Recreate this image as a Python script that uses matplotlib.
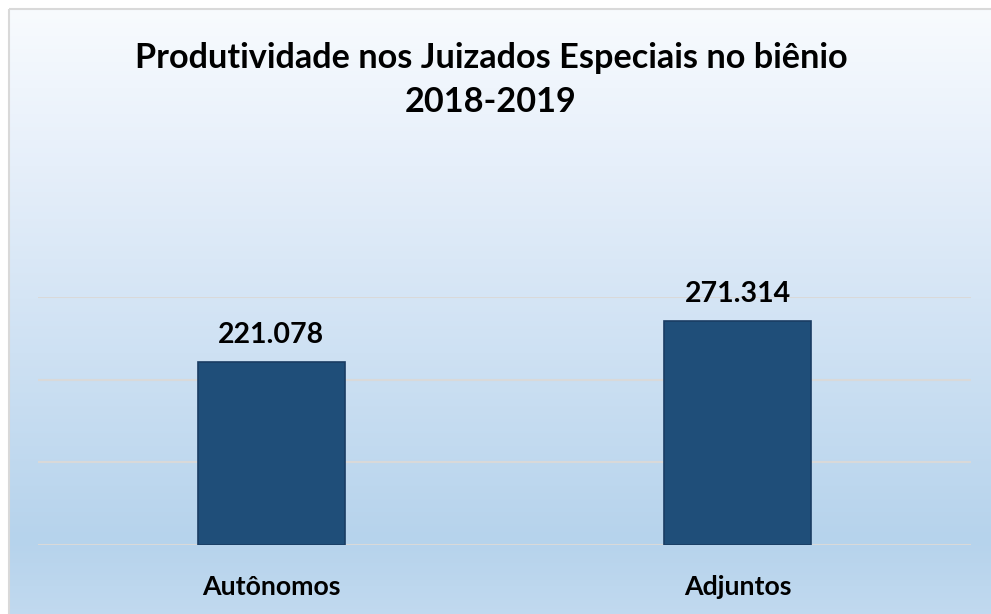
import numpy as np
import matplotlib
matplotlib.use("Agg")
import matplotlib.pyplot as plt
from matplotlib.colors import LinearSegmentedColormap
from matplotlib.patches import Rectangle

categories = ["Autônomos", "Adjuntos"]
values = [221078, 271314]
labels = ["221.078", "271.314"]
title = "Produtividade nos Juizados Especiais no biênio\n2018-2019"

W, H = 991, 614
fig = plt.figure(figsize=(W / 100, H / 100), dpi=100)
fig.patch.set_facecolor("white")

# background gradient
bg = fig.add_axes([0, 0, 1, 1])
bg.set_xlim(0, W)
bg.set_ylim(H, 0)
bg.axis("off")
cmap = LinearSegmentedColormap.from_list(
    "g", [(0, "#f8fbfe"), (0.25, "#e6effa"), (0.85, "#b6d3ec"), (1.0, "#c4dbf0")])
grad = np.linspace(0, 1, 256).reshape(-1, 1)
bg.imshow(grad, aspect="auto", cmap=cmap, extent=(9, W + 20, H + 20, 9), zorder=0)
bg.add_patch(Rectangle((9, 9), W + 20, H + 20, fill=False, edgecolor="#d9d9d9", lw=1.5, zorder=1))

fam = ["Lato", "DejaVu Sans"]
fig.text(491 / W, 1 - 80 / H, title, ha="center", va="center", fontsize=24.7,
         fontweight="bold", family=fam, linespacing=1.45)

ax = fig.add_axes([38 / W, 69 / H, 933 / W, (545 - 297) / H])
ax.patch.set_alpha(0)
x = np.arange(len(categories))
ax.bar(x, values, width=0.315, color="#1f4e79", edgecolor="#1a3c63", linewidth=1.2, zorder=3)
ax.set_xlim(-0.5, len(categories) - 0.5)
ax.set_ylim(0, 300000)
ax.set_yticks([0, 100000, 200000, 300000])
ax.yaxis.grid(True, color="#d9d9d9", lw=1.5, zorder=0)
ax.tick_params(left=False, labelleft=False, bottom=False)
for s in ax.spines.values():
    s.set_visible(False)
ax.set_xticks(x)
ax.set_xticklabels(categories, fontsize=19.3, fontweight="bold", family=fam)
ax.tick_params(axis="x", pad=18)
for xi, v, l in zip(x, values, labels):
    ax.annotate(l, (xi, v), xytext=(0, 10), textcoords="offset points", ha="center",
                va="bottom", fontsize=20.5, fontweight="bold", family=fam)

fig.savefig("out.png", dpi=100)
